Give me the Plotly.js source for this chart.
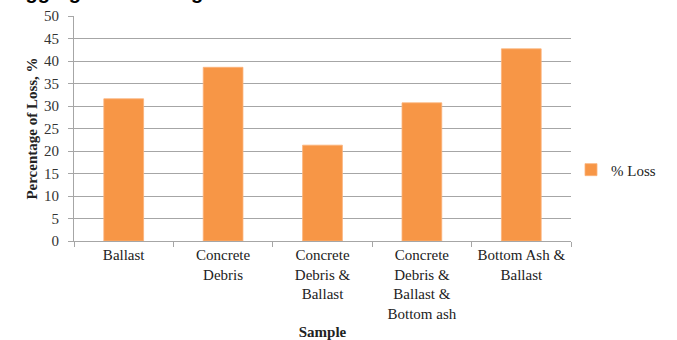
<!DOCTYPE html>
<html>
<head>
<meta charset="utf-8">
<script src="https://cdn.plot.ly/plotly-3.0.1.min.js"></script>
<style>html,body{margin:0;padding:0;background:#fff;}#chart{width:677px;height:340px;}</style>
</head>
<body>
<div id="chart"></div>
<script>
const categories = ["Ballast", "Concrete<br>Debris", "Concrete<br>Debris &amp;<br>Ballast", "Concrete<br>Debris &amp;<br>Ballast &amp;<br>Bottom ash", "Bottom Ash &amp;<br>Ballast"];
const lossValues = [31.6, 38.6, 21.3, 30.7, 42.7];
const yTicks = [0, 5, 10, 15, 20, 25, 30, 35, 40, 45, 50];
const seriesName = "% Loss";
const chartTitle = "Aggregate Crushing Value";

const serif = "'Liberation Serif', 'Times New Roman', serif";

const data = [{
  type: "bar",
  x: categories,
  y: lossValues,
  name: seriesName,
  marker: {color: "#f79646", line: {color: "#fbb27a", width: 0.8}},
  hoverinfo: "y"
}];

const layout = {
  width: 677, height: 340,
  margin: {l: 74, r: 106, t: 16, b: 99},
  paper_bgcolor: "#fff", plot_bgcolor: "#fff",
  bargap: 0.6,
  showlegend: true,
  legend: {x: 1.0, xanchor: "left", y: 0.316, yanchor: "middle",
    font: {family: serif, size: 15, color: "#222"}, itemwidth: 30},
  xaxis: {
    type: "category",
    tickson: "boundaries",
    ticks: "outside", ticklen: 5, tickcolor: "#a6a6a6",
    showline: true, linecolor: "#a6a6a6", linewidth: 1,
    showgrid: false,
    tickfont: {family: serif, size: 15, color: "#222"},
    title: {text: "<b>Sample</b>", font: {family: serif, size: 15, color: "#222"}, standoff: 6}
  },
  yaxis: {
    range: [0, 50],
    tickvals: yTicks,
    ticks: "outside", ticklen: 5, tickcolor: "#a6a6a6",
    ticklabelstandoff: 6,
    showline: true, linecolor: "#a6a6a6", linewidth: 1,
    showgrid: true, gridcolor: "#a6a6a6", gridwidth: 1,
    zeroline: false,
    tickfont: {family: serif, size: 15, color: "#333"},
    title: {text: "<b>Percentage of Loss, %</b>", font: {family: serif, size: 15, color: "#222"}, standoff: 2}
  },
  annotations: [{
    text: "<b>" + chartTitle + "</b>",
    xref: "paper", yref: "paper",
    x: -0.131, xanchor: "left",
    y: 1.049, yanchor: "bottom",
    showarrow: false,
    font: {family: "'Liberation Sans', Arial, sans-serif", size: 20, color: "#000"}
  }]
};

Plotly.newPlot("chart", data, layout, {displayModeBar: false, staticPlot: true});
</script>
</body>
</html>
